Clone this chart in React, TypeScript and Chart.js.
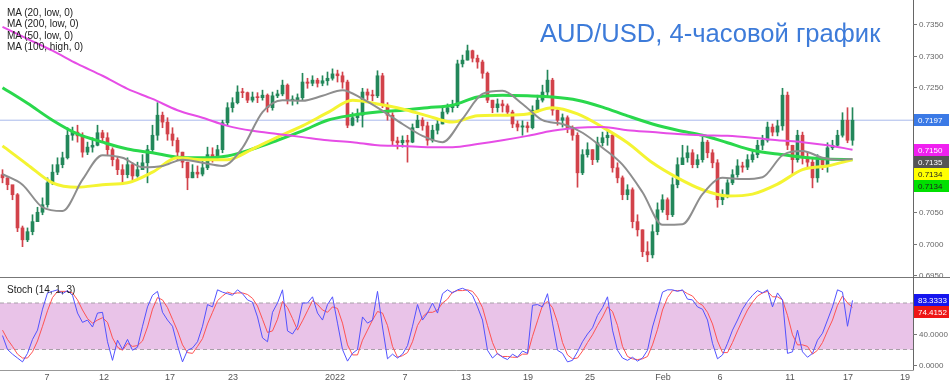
import React, { useEffect, useRef } from "react";
import { Chart, registerables } from "chart.js";

Chart.register(...registerables);

const FONT = "'Liberation Sans', Arial, sans-serif";

// ---------- price candles (one bar per sampled period) ----------
const firstOpen = 0.711;
const closes = [
  0.7105, 0.7094, 0.7078, 0.7025, 0.7006, 0.7019, 0.7035, 0.705, 0.7062, 0.7097,
  0.7114, 0.7126, 0.7137, 0.7173, 0.7178, 0.7172, 0.7146, 0.7154, 0.7157, 0.7177,
  0.7169, 0.715, 0.7134, 0.7118, 0.711, 0.7126, 0.7108, 0.7118, 0.7129, 0.715,
  0.7173, 0.7205, 0.7194, 0.7175, 0.7165, 0.7146, 0.713, 0.7105, 0.7114, 0.7111,
  0.7121, 0.7142, 0.7137, 0.715, 0.7193, 0.7217, 0.7225, 0.7242, 0.7241, 0.7229,
  0.7234, 0.7233, 0.7237, 0.7217, 0.7236, 0.7239, 0.7253, 0.7229, 0.7229, 0.7233,
  0.7258, 0.7256, 0.7261, 0.7256, 0.726, 0.7264, 0.7271, 0.7268, 0.7258, 0.7189,
  0.7201, 0.7205, 0.7242, 0.7237, 0.7236, 0.7268, 0.7221, 0.7205, 0.7164, 0.7161,
  0.7165, 0.7162, 0.7185, 0.7197, 0.7188, 0.7165, 0.7181, 0.7191, 0.721, 0.7217,
  0.722, 0.7287, 0.7293, 0.7308, 0.7296, 0.729, 0.7272, 0.7229, 0.7217, 0.7223,
  0.722, 0.721, 0.7191, 0.7186, 0.7188, 0.7185, 0.7213, 0.7229, 0.7242, 0.7261,
  0.7213, 0.7197, 0.7201, 0.7185, 0.7173, 0.7113, 0.7142, 0.715, 0.7134, 0.7161,
  0.7169, 0.7173, 0.7121, 0.7105, 0.7078, 0.7086, 0.7035, 0.7022, 0.6987, 0.6982,
  0.7019, 0.7054, 0.707, 0.7046, 0.7094, 0.7126, 0.7137, 0.7145, 0.7126, 0.7134,
  0.7162, 0.7145, 0.7129, 0.707, 0.7078, 0.7097, 0.711, 0.7124, 0.7122, 0.7134,
  0.7142, 0.7157, 0.7165, 0.7186, 0.7178, 0.7188, 0.7237, 0.7157, 0.7134, 0.7173,
  0.7137, 0.713, 0.7105, 0.7134, 0.7126, 0.7153, 0.7157, 0.7173, 0.7197, 0.7165,
  0.7197,
];
const highs = [
  0.7118, 0.7105, 0.7092, 0.708, 0.7028, 0.7025, 0.7046, 0.7058, 0.7073, 0.7105,
  0.7126, 0.7137, 0.7146, 0.7185, 0.7186, 0.7189, 0.7177, 0.7162, 0.7169, 0.7189,
  0.7181, 0.7177, 0.7153, 0.7138, 0.7126, 0.7137, 0.7129, 0.713, 0.7142, 0.7157,
  0.7189, 0.7225, 0.721, 0.7201, 0.7185, 0.7169, 0.7146, 0.713, 0.7126, 0.7124,
  0.7134, 0.7154, 0.7153, 0.7157, 0.7197, 0.7225, 0.7233, 0.7252, 0.7248, 0.7242,
  0.7242, 0.7241, 0.7245, 0.7239, 0.7242, 0.7245, 0.7261, 0.7255, 0.7236, 0.7239,
  0.7272, 0.7264, 0.7268, 0.7264, 0.7268, 0.7274, 0.7279, 0.7277, 0.7274, 0.7261,
  0.7209, 0.7215, 0.7248, 0.7247, 0.7245, 0.7276, 0.7272, 0.7225, 0.7209, 0.717,
  0.7172, 0.7173, 0.7191, 0.7205, 0.7201, 0.7194, 0.7189, 0.7197, 0.7217, 0.7223,
  0.7229, 0.7293, 0.7301, 0.7317, 0.7309, 0.7301, 0.7293, 0.7274, 0.7229, 0.7231,
  0.7229, 0.7223, 0.7213, 0.7196, 0.7196, 0.7194, 0.722, 0.7237, 0.7253, 0.7277,
  0.7264, 0.7215, 0.7207, 0.7204, 0.7188, 0.7177, 0.715, 0.7161, 0.715, 0.717,
  0.7178, 0.7181, 0.7177, 0.7129, 0.7108, 0.7094, 0.7089, 0.7046, 0.7022, 0.7003,
  0.703, 0.7065, 0.7078, 0.7073, 0.7105, 0.7137, 0.7157, 0.7156, 0.715, 0.7142,
  0.717, 0.7165, 0.715, 0.7134, 0.7086, 0.7102, 0.7118, 0.7134, 0.713, 0.7142,
  0.715, 0.7165, 0.7173, 0.7194, 0.7191, 0.7197, 0.7248, 0.7242, 0.7157, 0.7181,
  0.7178, 0.7146, 0.7137, 0.7142, 0.7137, 0.7161, 0.7165, 0.7181, 0.7209, 0.7217,
  0.7217,
];
const lows = [
  0.7097, 0.7086, 0.707, 0.7019, 0.6995, 0.7003, 0.7014, 0.7035, 0.7046, 0.7058,
  0.7094, 0.711, 0.7121, 0.7135, 0.7165, 0.7162, 0.7138, 0.7142, 0.7146, 0.7156,
  0.7162, 0.7142, 0.7124, 0.711, 0.7094, 0.7105, 0.7102, 0.7106, 0.7118, 0.7097,
  0.7146, 0.7165, 0.7185, 0.7165, 0.7156, 0.7134, 0.7121, 0.7086, 0.7105, 0.7105,
  0.7108, 0.7118, 0.713, 0.7134, 0.7145, 0.7189, 0.721, 0.7223, 0.7233, 0.7225,
  0.7226, 0.7225, 0.7229, 0.721, 0.7213, 0.7233, 0.7236, 0.7223, 0.7221, 0.7223,
  0.7229, 0.7248, 0.7252, 0.725, 0.7252, 0.7253, 0.7261, 0.7258, 0.7248, 0.7185,
  0.7188, 0.7194, 0.7186, 0.7229, 0.7228, 0.7233, 0.7217, 0.7197, 0.7157, 0.7151,
  0.7154, 0.713, 0.7161, 0.7185, 0.7181, 0.7157, 0.7162, 0.7175, 0.7191, 0.7207,
  0.721, 0.7217, 0.7282, 0.7293, 0.729, 0.728, 0.7264, 0.7225, 0.7209, 0.721,
  0.721, 0.7204, 0.7185, 0.718, 0.7173, 0.7178, 0.7183, 0.721, 0.7226, 0.7236,
  0.7205, 0.7189, 0.7186, 0.7177, 0.7165, 0.709, 0.711, 0.7138, 0.7126, 0.713,
  0.7156, 0.7157, 0.7114, 0.7097, 0.707, 0.707, 0.7025, 0.7012, 0.6979, 0.6971,
  0.6977, 0.7014, 0.705, 0.7038, 0.7043, 0.7089, 0.7126, 0.713, 0.7121, 0.7121,
  0.713, 0.7137, 0.7121, 0.7058, 0.7062, 0.7073, 0.7094, 0.7106, 0.7114, 0.7118,
  0.713, 0.7137, 0.715, 0.7162, 0.7172, 0.7172, 0.7181, 0.715, 0.711, 0.713,
  0.7127, 0.7121, 0.7089, 0.7098, 0.7118, 0.7114, 0.715, 0.7156, 0.717, 0.7161,
  0.7157,
];
const lastPrice = 0.7197;

// ---------- moving averages ----------
const maIdx = [0, 5, 10, 15, 20, 25, 30, 35, 40, 45, 50, 55, 60, 65, 70, 75, 80, 85, 90, 95, 100, 105, 110, 115, 120, 125, 130, 135, 140, 145, 150, 155, 160, 165, 170];
const ma200 = [
  0.7346, 0.7327, 0.7308, 0.7287, 0.7268, 0.7247, 0.7231, 0.7213, 0.7201, 0.7188,
  0.718, 0.7175, 0.717, 0.7165, 0.7162, 0.7157, 0.7156, 0.7154, 0.7154, 0.7159,
  0.7165, 0.7172, 0.718, 0.7185, 0.7186, 0.7181, 0.7178, 0.7175, 0.7173, 0.7172,
  0.7169, 0.7165, 0.7162, 0.7157, 0.715,
];
const ma100 = [
  0.7249, 0.7224, 0.7197, 0.7175, 0.7162, 0.7151, 0.7145, 0.7138, 0.7137, 0.714,
  0.7151, 0.7165, 0.718, 0.7197, 0.7205, 0.721, 0.7213, 0.7217, 0.7221, 0.7234,
  0.7237, 0.7236, 0.7234, 0.7229, 0.7218, 0.7204, 0.7191, 0.7181, 0.7173, 0.7161,
  0.7149, 0.7143, 0.7138, 0.7135, 0.7134,
];
const ma50 = [
  0.7156, 0.7126, 0.7097, 0.709, 0.7094, 0.7097, 0.7114, 0.7137, 0.7134, 0.7134,
  0.7151, 0.717, 0.7188, 0.7209, 0.7229, 0.7223, 0.7215, 0.7204, 0.7194, 0.7204,
  0.7205, 0.7207, 0.7217, 0.7207, 0.7186, 0.7161, 0.7129, 0.7105, 0.7086, 0.7076,
  0.7079, 0.7095, 0.7118, 0.7124, 0.7134,
];
const ma20Idx = [0, 4, 8, 12, 16, 20, 24, 28, 32, 36, 40, 44, 48, 52, 56, 60, 64, 68, 72, 76, 80, 84, 88, 92, 96, 100, 104, 108, 112, 116, 120, 124, 128, 132, 136, 140, 144, 148, 152, 156, 160, 164, 168, 170];
const ma20 = [
  0.7111, 0.7094, 0.7058, 0.7052, 0.7102, 0.7141, 0.7137, 0.7122, 0.7124, 0.7134,
  0.7129, 0.7124, 0.7153, 0.721, 0.7229, 0.7228, 0.7236, 0.7245, 0.7231, 0.7212,
  0.7191, 0.7172, 0.7162, 0.7199, 0.7239, 0.7244, 0.7223, 0.7197, 0.7191, 0.7177,
  0.7153, 0.7126, 0.7082, 0.703, 0.7031, 0.7079, 0.7105, 0.7103, 0.7106, 0.7141,
  0.7148, 0.7137, 0.7134, 0.7135,
];

// ---------- stochastic (14, 1, 3) ----------
const stochK = [
  38, 20, 14, 9, 4, 15, 33, 45, 72, 93,
  95, 97, 92, 96, 90, 67, 55, 58, 49, 67,
  68, 30, 6, 32, 20, 33, 19, 23, 50, 75,
  90, 95, 68, 58, 50, 25, 4, 19, 22, 30,
  50, 78, 75, 97, 94, 92, 90, 97, 92, 84,
  81, 62, 35, 30, 68, 80, 97, 44, 40, 50,
  80, 80, 88, 67, 58, 78, 88, 54, 20, 5,
  15, 20, 62, 54, 58, 95, 49, 8, 14, 9,
  14, 25, 50, 78, 58, 67, 80, 67, 92, 97,
  93, 97, 99, 96, 90, 75, 58, 19, 9, 15,
  10, 7, 14, 10, 18, 15, 77, 78, 75, 92,
  54, 19, 15, 4, 6, 17, 30, 40, 48, 64,
  74, 88, 45, 19, 9, 6, 10, 5, 9, 19,
  49, 71, 94, 97, 97, 95, 97, 85, 84, 75,
  72, 58, 28, 8, 13, 28, 45, 58, 72, 82,
  90, 96, 93, 97, 75, 93, 84, 15, 17, 45,
  17, 10, 15, 32, 41, 58, 75, 97, 94, 50,
  83.3333,
];
const stochD = [
  45, 33, 24, 14, 9, 9, 17, 31, 50, 70,
  87, 95, 95, 95, 93, 84, 71, 60, 54, 58,
  61, 55, 35, 23, 19, 28, 24, 25, 31, 49,
  72, 87, 84, 74, 59, 44, 26, 16, 15, 24,
  34, 53, 68, 83, 89, 94, 92, 93, 93, 91,
  86, 76, 59, 42, 44, 59, 82, 74, 60, 45,
  57, 70, 83, 78, 71, 68, 75, 73, 54, 26,
  13, 13, 32, 45, 58, 69, 67, 51, 24, 10,
  12, 16, 30, 51, 62, 68, 68, 71, 80, 85,
  94, 96, 96, 97, 95, 87, 74, 51, 29, 14,
  11, 11, 10, 10, 14, 14, 37, 57, 77, 82,
  74, 55, 29, 13, 8, 9, 18, 29, 39, 51,
  62, 75, 69, 51, 24, 11, 8, 7, 8, 11,
  26, 46, 71, 87, 96, 96, 96, 92, 89, 81,
  77, 68, 53, 31, 16, 16, 29, 44, 58, 71,
  81, 89, 93, 95, 88, 88, 84, 64, 39, 26,
  26, 24, 14, 19, 29, 44, 58, 77, 89, 80,
  74.4152,
];
const stochUpper = 80;
const stochLower = 20;

// ---------- axes ----------
const dateTickPos = [8.9, 20.3, 33.5, 46.1, 66.5, 80.5, 92.7, 105.1, 117.5, 132.1, 143.5, 157.5, 169.1, 180.5];
const dateTickLabels = ["7", "12", "17", "23", "2022", "7", "13", "19", "25", "Feb", "6", "11", "17", "19"];
const priceTicks = [0.735, 0.73, 0.725, 0.705, 0.7, 0.695];
const stochTicks = [40, 0];

const X_MIN = -0.5;
const X_MAX = 182.1;
const P_MAX = 0.7389;
const P_MIN = 0.69466;
const S_MAX = 112.26;
const S_MIN = -6.45;

const UP = "#23875a";
const DOWN = "#d2424a";

type Box = { v: number; label: string; bg: string; fg: string };

function drawBoxes(ctx: CanvasRenderingContext2D, scale: any, right: number, items: Box[], boxH: number) {
  const placed = items
    .map((it, k) => ({ ...it, k, y: scale.getPixelForValue(it.v) }))
    .sort((a, b) => a.y - b.y || a.k - b.k);
  let prev = -Infinity;
  ctx.font = `8px ${FONT}`;
  ctx.textBaseline = "middle";
  ctx.textAlign = "left";
  for (const p of placed) {
    const y = Math.max(p.y, prev + boxH);
    prev = y;
    ctx.fillStyle = p.bg;
    ctx.fillRect(right + 1, Math.round(y - boxH / 2), 35, boxH);
    ctx.fillStyle = p.fg;
    ctx.fillText(p.label, right + 5, Math.round(y) + 0.5);
  }
}

function drawAxisTicks(ctx: CanvasRenderingContext2D, scale: any, right: number, ticks: number[]) {
  ctx.strokeStyle = "#777";
  ctx.lineWidth = 1;
  ctx.fillStyle = "#666";
  ctx.font = `8px ${FONT}`;
  ctx.textBaseline = "middle";
  ctx.textAlign = "left";
  for (const v of ticks) {
    const y = Math.round(scale.getPixelForValue(v)) + 0.5;
    ctx.beginPath();
    ctx.moveTo(right, y);
    ctx.lineTo(right + 4, y);
    ctx.stroke();
    ctx.fillText(v.toFixed(4), right + 6, y);
  }
}

export default function App() {
  const mainRef = useRef<HTMLCanvasElement>(null);
  const stochRef = useRef<HTMLCanvasElement>(null);

  useEffect(() => {
    document.body.style.margin = "0";
    Chart.defaults.font.family = FONT;
    const opens = [firstOpen, ...closes.slice(0, -1)];
    const idx = closes.map((_, i) => i);
    const colors = idx.map((i) => (closes[i] >= opens[i] ? UP : DOWN));
    const wickData = idx.map((i) => ({ x: i, y: [lows[i], highs[i]] }));
    const bodyData = idx.map((i) => ({ x: i, y: [Math.min(opens[i], closes[i]), Math.max(opens[i], closes[i])] }));
    const line = (xs: number[], ys: number[]) => xs.map((x, k) => ({ x, y: ys[k] }));

    const mainPlugin = {
      id: "mainDecor",
      afterDraw(chart: any) {
        const { ctx, chartArea: a, scales } = chart;
        ctx.save();
        ctx.strokeStyle = "#666";
        ctx.lineWidth = 1;
        ctx.beginPath();
        ctx.moveTo(a.right + 0.5, 0);
        ctx.lineTo(a.right + 0.5, chart.height);
        ctx.stroke();
        drawAxisTicks(ctx, scales.y, a.right, priceTicks);
        drawBoxes(ctx, scales.y, a.right, [
          { v: lastPrice, label: lastPrice.toFixed(4), bg: "#3b7ae6", fg: "#fff" },
          { v: ma200[ma200.length - 1], label: ma200[ma200.length - 1].toFixed(4), bg: "#f020f0", fg: "#fff" },
          { v: ma20[ma20.length - 1], label: ma20[ma20.length - 1].toFixed(4), bg: "#555", fg: "#fff" },
          { v: ma50[ma50.length - 1], label: ma50[ma50.length - 1].toFixed(4), bg: "#ffff00", fg: "#222" },
          { v: ma100[ma100.length - 1], label: ma100[ma100.length - 1].toFixed(4), bg: "#00e000", fg: "#222" },
        ], 12);
        ctx.restore();
      },
    };

    const mainChart = new Chart(mainRef.current as HTMLCanvasElement, {
      type: "bar",
      data: {
        datasets: [
          { type: "line", data: line(ma20Idx, ma20), borderColor: "#8e8e8e", borderWidth: 2, pointRadius: 0, cubicInterpolationMode: "monotone", fill: false } as any,
          { type: "line", data: line(maIdx, ma200), borderColor: "#e64de6", borderWidth: 2, pointRadius: 0, cubicInterpolationMode: "monotone", fill: false } as any,
          { type: "line", data: line(maIdx, ma50), borderColor: "#f4f432", borderWidth: 3, pointRadius: 0, cubicInterpolationMode: "monotone", fill: false } as any,
          { type: "line", data: line(maIdx, ma100), borderColor: "#2ad84c", borderWidth: 3, pointRadius: 0, cubicInterpolationMode: "monotone", fill: false } as any,
          { type: "bar", data: bodyData, backgroundColor: colors, barThickness: 3, grouped: false, minBarLength: 1, borderWidth: 0 } as any,
          { type: "bar", data: wickData, backgroundColor: colors, barThickness: 1, grouped: false, borderWidth: 0 } as any,
          { type: "line", data: [{ x: X_MIN, y: lastPrice }, { x: X_MAX, y: lastPrice }], borderColor: "#a9b9ec", borderWidth: 1, pointRadius: 0, fill: false } as any,
        ],
      },
      options: {
        animation: false,
        responsive: false,
        maintainAspectRatio: false,
        layout: { padding: 0 },
        plugins: { legend: { display: false }, tooltip: { enabled: false } },
        scales: {
          x: { type: "linear", min: X_MIN, max: X_MAX, display: false, offset: false },
          y: {
            type: "linear",
            position: "right",
            min: P_MIN,
            max: P_MAX,
            grid: { display: false },
            ticks: { display: false },
            border: { display: false },
            afterFit: (s: any) => { s.width = 37; },
          },
        },
      } as any,
      plugins: [mainPlugin],
    });

    const stochPlugin = {
      id: "stochDecor",
      afterDraw(chart: any) {
        const { ctx, chartArea: a, scales } = chart;
        ctx.save();
        ctx.strokeStyle = "#777";
        ctx.lineWidth = 1;
        ctx.beginPath();
        ctx.moveTo(0, 0.5);
        ctx.lineTo(chart.width, 0.5);
        ctx.stroke();
        ctx.strokeStyle = "#666";
        ctx.beginPath();
        ctx.moveTo(a.right + 0.5, 0);
        ctx.lineTo(a.right + 0.5, a.bottom + 0.5);
        ctx.stroke();
        ctx.strokeStyle = "#999";
        ctx.beginPath();
        ctx.moveTo(0, a.bottom + 0.5);
        ctx.lineTo(a.right, a.bottom + 0.5);
        ctx.stroke();
        drawAxisTicks(ctx, scales.y, a.right, stochTicks);
        drawBoxes(ctx, scales.y, a.right, [
          { v: stochK[stochK.length - 1], label: stochK[stochK.length - 1].toFixed(4), bg: "#1515ee", fg: "#fff" },
          { v: stochD[stochD.length - 1], label: stochD[stochD.length - 1].toFixed(4), bg: "#ee1515", fg: "#fff" },
        ], 12);
        ctx.fillStyle = "#555";
        ctx.font = `9px ${FONT}`;
        ctx.textAlign = "center";
        ctx.textBaseline = "middle";
        dateTickPos.forEach((p, k) => {
          ctx.fillText(dateTickLabels[k], scales.x.getPixelForValue(p), a.bottom + 8);
        });
        ctx.restore();
      },
    };

    const stochChart = new Chart(stochRef.current as HTMLCanvasElement, {
      type: "line",
      data: {
        datasets: [
          { data: idx.map((i) => ({ x: i, y: stochK[i] })), borderColor: "#5252ff", borderWidth: 1, pointRadius: 0, fill: false },
          { data: idx.map((i) => ({ x: i, y: stochD[i] })), borderColor: "#ff5252", borderWidth: 1, pointRadius: 0, fill: false },
          { data: [{ x: X_MIN, y: stochUpper }, { x: X_MAX, y: stochUpper }], borderColor: "#a8a0a8", borderWidth: 1, borderDash: [4, 3], pointRadius: 0, fill: false },
          { data: [{ x: X_MIN, y: stochLower }, { x: X_MAX, y: stochLower }], borderColor: "#a8a0a8", borderWidth: 1, borderDash: [4, 3], pointRadius: 0, fill: "-1", backgroundColor: "#e9c3e8" },
        ] as any,
      },
      options: {
        animation: false,
        responsive: false,
        maintainAspectRatio: false,
        layout: { padding: { top: 1, bottom: 17, left: 0, right: 0 } },
        plugins: { legend: { display: false }, tooltip: { enabled: false } },
        scales: {
          x: { type: "linear", min: X_MIN, max: X_MAX, display: false, offset: false },
          y: {
            type: "linear",
            position: "right",
            min: S_MIN,
            max: S_MAX,
            grid: { display: false },
            ticks: { display: false },
            border: { display: false },
            afterFit: (s: any) => { s.width = 37; },
          },
        },
      } as any,
      plugins: [stochPlugin],
    });

    return () => {
      mainChart.destroy();
      stochChart.destroy();
    };
  }, []);

  const textStyle: React.CSSProperties = {
    position: "absolute",
    fontFamily: FONT,
    fontSize: 10,
    lineHeight: "11.3px",
    color: "#222",
    whiteSpace: "nowrap",
  };

  return (
    <div style={{ position: "relative", width: 950, height: 387, overflow: "hidden", background: "#fff" }}>
      <canvas ref={mainRef} width={950} height={277} style={{ position: "absolute", left: 0, top: 0 }} />
      <canvas ref={stochRef} width={950} height={110} style={{ position: "absolute", left: 0, top: 277 }} />
      <div style={{ ...textStyle, left: 7, top: 7 }}>
        <div>MA (20, low, 0)</div>
        <div>MA (200, low, 0)</div>
        <div>MA (50, low, 0)</div>
        <div>MA (100, high, 0)</div>
      </div>
      <div
        style={{
          position: "absolute",
          left: 540,
          top: 21,
          fontFamily: FONT,
          fontSize: 25.6,
          lineHeight: "25px",
          color: "#3d7bd9",
          whiteSpace: "nowrap",
        }}
      >
        AUD/USD, 4-часовой график
      </div>
      <div style={{ ...textStyle, left: 7, top: 284 }}>Stoch (14, 1, 3)</div>
    </div>
  );
}
